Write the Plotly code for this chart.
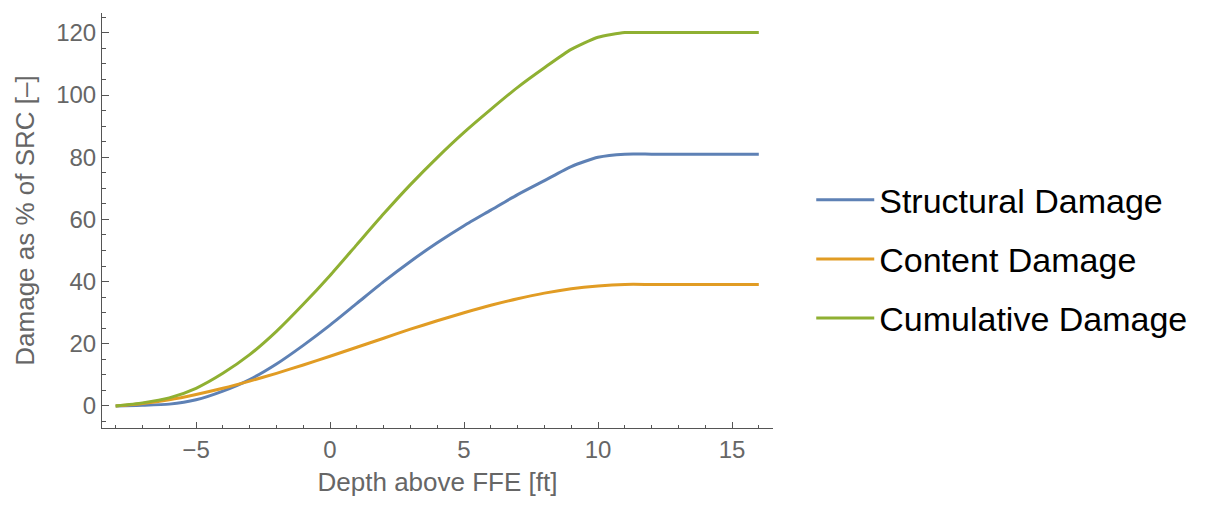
import plotly.graph_objects as go

# Flood depth above first-floor elevation (ft)
depth_ft = [-8, -7, -6, -5, -4, -3, -2, -1, 0, 1, 2, 3, 4, 5, 6, 7, 8, 9, 10, 11, 12, 13, 14, 15, 16]

# Damage as percentage of structure replacement cost
structural_damage = [0.0, 0.2, 0.6, 2.0, 4.8, 8.5, 13.5, 19.5, 26.0, 33.0, 40.0, 46.5, 52.5,
                     58.0, 63.0, 68.0, 72.5, 77.0, 80.0, 81.0, 81.0, 81.0, 81.0, 81.0, 81.0]
content_damage = [0.0, 0.8, 2.0, 3.7, 5.7, 8.0, 10.5, 13.2, 16.0, 18.9, 21.8, 24.7, 27.4,
                  30.0, 32.4, 34.5, 36.3, 37.7, 38.6, 39.1, 39.1, 39.1, 39.1, 39.1, 39.1]
cumulative_damage = [0.0, 1.0, 2.6, 5.7, 10.5, 16.5, 24.0, 32.7, 42.0, 51.9, 61.8, 71.2, 79.9,
                     88.0, 95.4, 102.5, 108.8, 114.7, 118.6, 120.1, 120.1, 120.1, 120.1, 120.1, 120.1]

series_names = ["Structural Damage", "Content Damage", "Cumulative Damage"]
series_values = [structural_damage, content_damage, cumulative_damage]
series_colors = ["#5E81B5", "#E19C24", "#8FB032"]

x_ticks = [-5, 0, 5, 10, 15]
y_ticks = [0, 20, 40, 60, 80, 100, 120]

axis_grey = "#555555"
label_grey = "#666666"
font_family = "Liberation Sans, Arial, sans-serif"

fig = go.Figure()
for i, (name, vals, col) in enumerate(zip(series_names, series_values, series_colors)):
    fig.add_trace(go.Scatter(
        x=depth_ft, y=vals, name=name, mode="lines",
        line=dict(color=col, width=3, shape="spline", smoothing=0.6),
        legendgroup=f"g{i}",
    ))

fig.update_layout(
    width=1205, height=508,
    margin=dict(l=102, r=432, t=13, b=80),
    paper_bgcolor="white", plot_bgcolor="white",
    font=dict(family=font_family, color=label_grey),
    showlegend=True,
    legend=dict(
        x=1.057, xanchor="left", y=0.407, yanchor="middle",
        font=dict(size=34, color="black", family=font_family),
        itemwidth=58, tracegroupgap=12, bgcolor="rgba(0,0,0,0)",
    ),
)

fig.update_xaxes(
    range=[-8.51, 16.53], tickvals=x_ticks, ticktext=["\u22125", "0", "5", "10", "15"],
    showgrid=False, zeroline=False,
    showline=True, linecolor=axis_grey, linewidth=1,
    ticks="inside", ticklen=6, tickcolor=axis_grey, tickwidth=1,
    minor=dict(dtick=1, ticks="inside", ticklen=3, tickcolor=axis_grey, showgrid=False),
    tickfont=dict(size=24, color=label_grey),
    title=dict(text="Depth above FFE [ft]", font=dict(size=26, color=label_grey), standoff=11),
)
fig.update_yaxes(
    range=[-7.08, 126.4], tickvals=y_ticks,
    showgrid=False, zeroline=False,
    showline=True, linecolor=axis_grey, linewidth=1,
    ticks="inside", ticklen=7, tickcolor=axis_grey, tickwidth=1,
    minor=dict(dtick=5, ticks="inside", ticklen=4, tickcolor=axis_grey, showgrid=False),
    tickfont=dict(size=24, color=label_grey),
    title=dict(text="Damage as % of SRC [\u2013]", font=dict(size=26, color=label_grey), standoff=14),
)

fig.write_html("out.html")
